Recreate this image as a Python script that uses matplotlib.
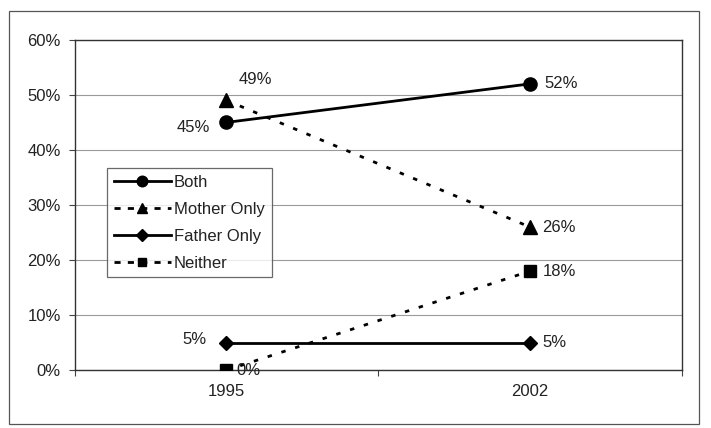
import matplotlib
matplotlib.use("Agg")
import matplotlib.pyplot as plt
from matplotlib.patches import Rectangle
from matplotlib.lines import Line2D

plt.rcParams['font.family'] = ['Liberation Sans', 'DejaVu Sans']

years = ["1995", "2002"]
series_names = ["Both", "Mother Only", "Father Only", "Neither"]
both = [45, 52]
mother_only = [49, 26]
father_only = [5, 5]
neither = [0, 18]
y_ticks = [0, 10, 20, 30, 40, 50, 60]

fig = plt.figure(figsize=(7.11, 4.28), dpi=100)
ax = fig.add_axes([0.105, 0.135, 0.854, 0.772])

xpos = [0.5, 1.5]
dash = (0, (1.6, 3.6))
legend_dash = (0, (2.2, 2.6))
styles = [
    (both, "o", "-", "-", 9.5),
    (mother_only, "^", dash, legend_dash, 9.5),
    (father_only, "D", "-", "-", 7.5),
    (neither, "s", dash, legend_dash, 8),
]
handles = []
for name, (vals, mk, ls, lls, ms) in zip(series_names, styles):
    ax.plot(xpos, [v / 100 for v in vals], color="black", linestyle=ls,
            linewidth=2.0, marker=mk, markersize=ms, zorder=3)
    handles.append(Line2D([], [], color="black", linestyle=lls, linewidth=2.0,
                          marker=mk, markersize=ms * 0.8, label=name))

# value labels
fs = 12
txt_color = "#222222"
def lab(x, v, dx, dy, ha):
    ax.annotate(f"{v}%", (x, v / 100), xytext=(dx, dy), textcoords="offset points",
                ha=ha, va="center", fontsize=fs, color=txt_color)

lab(xpos[0], both[0], -12, -4, "right")
lab(xpos[1], both[1], 10, 0, "left")
lab(xpos[0], mother_only[0], 9, 15, "left")
lab(xpos[1], mother_only[1], 9, 0, "left")
lab(xpos[0], father_only[0], -14, 2, "right")
lab(xpos[1], father_only[1], 9, 0, "left")
lab(xpos[0], neither[0], 7, 0, "left")
lab(xpos[1], neither[1], 9, 0, "left")

ax.set_xlim(0, 2)
ax.set_ylim(0, 0.6)
ax.set_yticks([t / 100 for t in y_ticks])
ax.set_yticklabels([f"{t}%" for t in y_ticks], fontsize=fs, color=txt_color)
ax.set_xticks([0, 1, 2])
ax.set_xticklabels([])
ax.set_xticks(xpos, minor=True)
ax.set_xticklabels(years, minor=True, fontsize=fs, color=txt_color)
ax.tick_params(axis="x", which="minor", length=0, pad=10)
ax.tick_params(axis="x", which="major", length=4, color="#444444")
ax.tick_params(axis="y", length=4, color="#444444", pad=6)
ax.grid(axis="y", color="#9a9a9a", linewidth=0.8)
ax.set_axisbelow(True)
for sp in ax.spines.values():
    sp.set_color("#333333")
    sp.set_linewidth(1.0)

leg = ax.legend(handles=handles, loc="upper left", bbox_to_anchor=(0.054, 0.612),
                fontsize=fs, handlelength=3.4, handletextpad=0.2, borderpad=0.4,
                labelspacing=0.72, frameon=True, fancybox=False,
                borderaxespad=0)
leg.get_frame().set_edgecolor("#444444")
leg.get_frame().set_linewidth(0.9)
for t in leg.get_texts():
    t.set_color(txt_color)

fig.add_artist(Rectangle((9 / 711, 1 - 424 / 428), 690 / 711, 413 / 428,
                         transform=fig.transFigure, fill=False,
                         edgecolor="#555555", linewidth=0.9))

fig.savefig("out.png", dpi=100)
